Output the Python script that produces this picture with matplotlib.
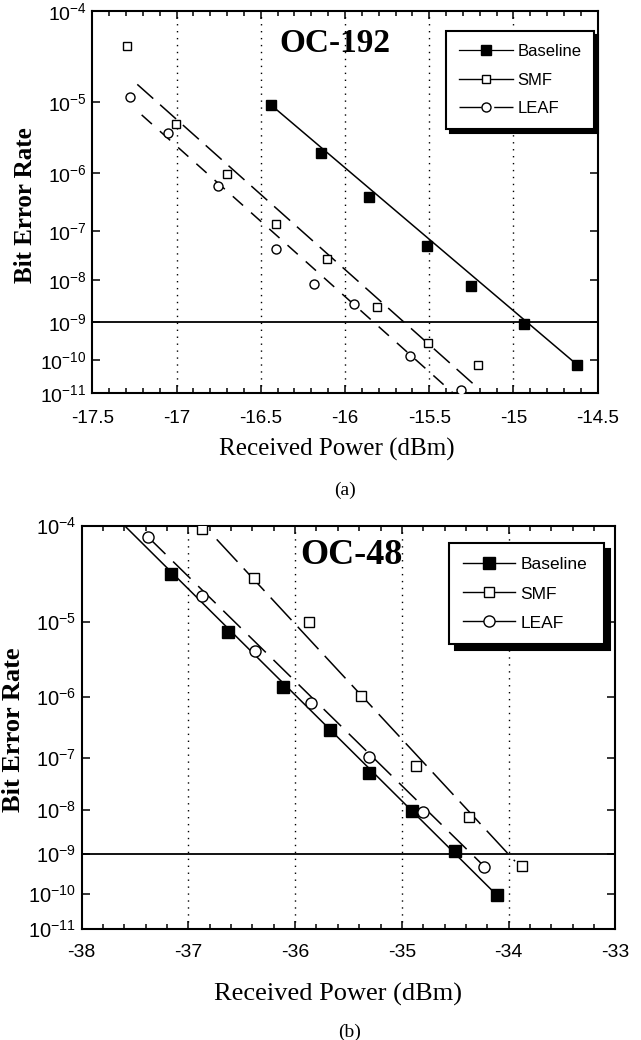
import numpy as np
import matplotlib
matplotlib.use('Agg')
import matplotlib.pyplot as plt
from matplotlib.lines import Line2D
from matplotlib.ticker import FixedLocator, FixedFormatter, MultipleLocator, FormatStrFormatter, NullLocator

plt.rcParams['font.family'] = ['Liberation Sans', 'DejaVu Sans']
plt.rcParams['mathtext.fontset'] = 'custom'
plt.rcParams['mathtext.rm'] = 'Liberation Sans'
plt.rcParams['mathtext.it'] = 'Liberation Sans:italic'
plt.rcParams['mathtext.bf'] = 'Liberation Sans:bold'
plt.rcParams['axes.unicode_minus'] = False

# ---- OC-192 measurements (received power in dBm, bit error rate) ----
oc192_base_p = [-16.44, -16.14, -15.86, -15.515, -15.25, -14.935, -14.62]
oc192_base_ber = [9.3e-6, 2.0e-6, 4.1e-7, 5.1e-8, 7.5e-9, 9.1e-10, 7.1e-11]
oc192_smf_p = [-17.295, -17.005, -16.703, -16.408, -16.109, -15.812, -15.51, -15.212]
oc192_smf_ber = [4.5e-5, 5.3e-6, 9.7e-7, 1.36e-7, 2.8e-8, 2.35e-9, 3.0e-10, 7.1e-11]
oc192_leaf_p = [-17.275, -17.053, -16.756, -16.408, -16.186, -15.949, -15.614, -15.312]
oc192_leaf_ber = [1.17e-5, 3.9e-6, 6.3e-7, 4.5e-8, 8.2e-9, 2.9e-9, 1.26e-10, 1.27e-11]

# fitted lines (end points)
oc192_base_fit_p = [-16.44, -14.62]
oc192_base_fit_ber = [9.3e-6, 7.1e-11]
oc192_smf_fit_p = [-17.233, -15.209]
oc192_smf_fit_ber = [1.66e-5, 1.43e-11]
oc192_leaf_fit_p = [-17.207, -15.357]
oc192_leaf_fit_ber = [6.9e-6, 1.0e-11]

# ---- OC-48 measurements ----
oc48_base_p = [-37.165, -36.632, -36.111, -35.670, -35.306, -34.904, -34.502, -34.111]
oc48_base_ber = [3.4e-5, 7.5e-6, 1.38e-6, 3.0e-7, 5.4e-8, 9.5e-9, 1.17e-9, 9.2e-11]
oc48_smf_p = [-36.877, -36.383, -35.866, -35.383, -34.870, -34.372, -33.870]
oc48_smf_ber = [9.3e-5, 3.1e-5, 9.9e-6, 1.04e-6, 7.0e-8, 7.0e-9, 5.3e-10]
oc48_leaf_p = [-37.379, -36.877, -36.372, -35.854, -35.310, -34.801, -34.226]
oc48_leaf_ber = [7.9e-5, 2.0e-5, 4.4e-6, 8.1e-7, 1.02e-7, 8.8e-9, 5.0e-10]

oc48_base_fit_p = [-37.598, -34.111]
oc48_base_fit_ber = [1.0e-4, 9.2e-11]
oc48_smf_fit_p = [-36.735, -33.94]
oc48_smf_fit_ber = [7.5e-5, 6.8e-10]
oc48_leaf_fit_p = [-37.379, -34.226]
oc48_leaf_fit_ber = [7.9e-5, 5.0e-10]

ber_ticks = [1e-4, 1e-5, 1e-6, 1e-7, 1e-8, 1e-9, 1e-10, 1e-11]
ber_labels = [r'$\mathregular{10^{-%d}}$' % n for n in range(4, 12)]
legend_names = ['Baseline', 'SMF', 'LEAF']


# BER axis: -log10(-log10(BER) - 1), increasing with BER
def ber_fwd(b):
    b = np.asarray(b, dtype=float)
    with np.errstate(all='ignore'):
        return -np.log10(-np.log10(b) - 1.0)


def ber_inv(t):
    t = np.asarray(t, dtype=float)
    with np.errstate(all='ignore'):
        return 10.0 ** (-(10.0 ** (-t) + 1.0))


def setup_axes(ax, xlim, xmajor, xminor, xsize, ysize, xpad):
    ax.set_yscale('function', functions=(ber_fwd, ber_inv))
    ax.set_xlim(*xlim)
    ax.set_ylim(1e-11, 1e-4)
    ax.yaxis.set_major_locator(FixedLocator(ber_ticks))
    ax.yaxis.set_major_formatter(FixedFormatter(ber_labels))
    ax.yaxis.set_minor_locator(NullLocator())
    ax.xaxis.set_major_locator(MultipleLocator(xmajor))
    ax.xaxis.set_minor_locator(MultipleLocator(xminor))
    ax.xaxis.set_major_formatter(FormatStrFormatter('%g'))
    ax.tick_params(which='both', direction='in', top=True, right=True, width=1.1)
    ax.tick_params(which='major', length=6)
    ax.tick_params(which='minor', length=3.5)
    ax.tick_params(axis='x', labelsize=xsize, pad=xpad)
    ax.tick_params(axis='y', labelsize=ysize, pad=4)
    for s in ax.spines.values():
        s.set_linewidth(1.5)
    # vertical dotted guides at the inner major ticks
    for v in np.arange(xlim[0] + xmajor, xlim[1] - xmajor / 2, xmajor):
        ax.axvline(v, color='black', lw=1.0, ls=(0, (1, 4)), zorder=1)
    ax.axhline(1e-9, color='black', lw=1.3, zorder=2)


fig = plt.figure(figsize=(6.41, 10.40), dpi=100)
W, H = 641.0, 1040.0

# ----- (a) OC-192 -----
ax1 = fig.add_axes([92.3 / W, 1 - 393.3 / H, 505.4 / W, 382.3 / H])
setup_axes(ax1, (-17.5, -14.5), 0.5, 0.1, 13.5, 14, 12)

ax1.plot(oc192_base_fit_p, oc192_base_fit_ber, color='black', lw=1.1, zorder=3)
ax1.plot(oc192_smf_fit_p, oc192_smf_fit_ber, color='black', lw=1.1, ls=(0, (14, 6)), zorder=3)
ax1.plot(oc192_leaf_fit_p, oc192_leaf_fit_ber, color='black', lw=1.1, ls=(0, (9, 7)), zorder=3)
ax1.plot(oc192_base_p, oc192_base_ber, ls='none', marker='s', ms=7.2, mfc='black', mec='black', zorder=4)
ax1.plot(oc192_smf_p, oc192_smf_ber, ls='none', marker='s', ms=6.2, mfc='white', mec='black', mew=1.0, zorder=4)
ax1.plot(oc192_leaf_p, oc192_leaf_ber, ls='none', marker='o', ms=6.5, mfc='white', mec='black', mew=1.0, zorder=4)

ax1.text(0.480, 0.916, 'OC-192', transform=ax1.transAxes, ha='center', va='center',
         family='Liberation Serif', weight='bold', fontsize=24)
ax1.set_xlabel('Received Power (dBm)', family='Liberation Serif', fontsize=18, va='center')
ax1.xaxis.set_label_coords(0.484, -0.146)
ax1.set_ylabel('Bit Error Rate', family='Liberation Serif', weight='bold', fontsize=18, va='center')
ax1.yaxis.set_label_coords(-0.133, 0.493)

h1 = [Line2D([], [], color='black', lw=0.9, marker='s', ms=7.2, mfc='black', mec='black'),
      Line2D([], [], color='black', lw=1.0, marker='s', ms=6.2, mfc='white', mec='black', mew=1.0),
      Line2D([], [], color='black', lw=1.0, ls=(0, (16, 9)), marker='o', ms=6.5, mfc='white', mec='black', mew=1.0)]
leg1 = ax1.legend(h1, legend_names, loc='upper left', bbox_to_anchor=(0.700, 0.697, 0.293, 0.251),
                  mode='expand', borderaxespad=0, fontsize=12, handlelength=3.2, handletextpad=0.3,
                  borderpad=0.8, labelspacing=0.8, fancybox=False, edgecolor='black', framealpha=1,
                  shadow={'color': 'black', 'alpha': 1, 'ox': 3, 'oy': -3})
leg1.get_frame().set_linewidth(1.5)

fig.text(345 / W, 1 - 490 / H, '(a)', ha='center', va='center', family='Liberation Serif', fontsize=14)

# ----- (b) OC-48 -----
ax2 = fig.add_axes([81.7 / W, 1 - 929 / H, 533.6 / W, 403.3 / H])
setup_axes(ax2, (-38, -33), 1.0, 0.2, 14, 14.5, 11)

ax2.plot(oc48_base_fit_p, oc48_base_fit_ber, color='black', lw=1.1, zorder=3)
ax2.plot(oc48_smf_fit_p, oc48_smf_fit_ber, color='black', lw=1.1, ls=(0, (20, 6)), zorder=3)
ax2.plot(oc48_leaf_fit_p, oc48_leaf_fit_ber, color='black', lw=1.1, ls=(0, (16, 7)), zorder=3)
ax2.plot(oc48_base_p, oc48_base_ber, ls='none', marker='s', ms=8, mfc='black', mec='black', zorder=4)
ax2.plot(oc48_smf_p, oc48_smf_ber, ls='none', marker='s', ms=7, mfc='white', mec='black', mew=1.0, zorder=4)
ax2.plot(oc48_leaf_p, oc48_leaf_ber, ls='none', marker='o', ms=8, mfc='white', mec='black', mew=1.0, zorder=4)

ax2.text(0.505, 0.925, 'OC-48', transform=ax2.transAxes, ha='center', va='center',
         family='Liberation Serif', weight='bold', fontsize=26)
ax2.set_xlabel('Received Power (dBm)', family='Liberation Serif', fontsize=19, va='center')
ax2.xaxis.set_label_coords(0.480, -0.163)
ax2.set_ylabel('Bit Error Rate', family='Liberation Serif', weight='bold', fontsize=19, va='center')
ax2.yaxis.set_label_coords(-0.127, 0.493)

h2 = [Line2D([], [], color='black', lw=1.0, marker='s', ms=8, mfc='black', mec='black'),
      Line2D([], [], color='black', lw=1.0, marker='s', ms=7, mfc='white', mec='black', mew=1.0),
      Line2D([], [], color='black', lw=1.0, marker='o', ms=8, mfc='white', mec='black', mew=1.0)]
leg2 = ax2.legend(h2, legend_names, loc='upper left', bbox_to_anchor=(0.689, 0.712, 0.290, 0.244),
                  mode='expand', borderaxespad=0, fontsize=12.5, handlelength=3.0, handletextpad=0.3,
                  borderpad=0.8, labelspacing=0.8, fancybox=False, edgecolor='black', framealpha=1,
                  shadow={'color': 'black', 'alpha': 1, 'ox': 4, 'oy': -4})
leg2.get_frame().set_linewidth(1.5)

fig.text(350 / W, 1 - 1032 / H, '(b)', ha='center', va='center', family='Liberation Serif', fontsize=14)

fig.savefig('out.png', dpi=100)
